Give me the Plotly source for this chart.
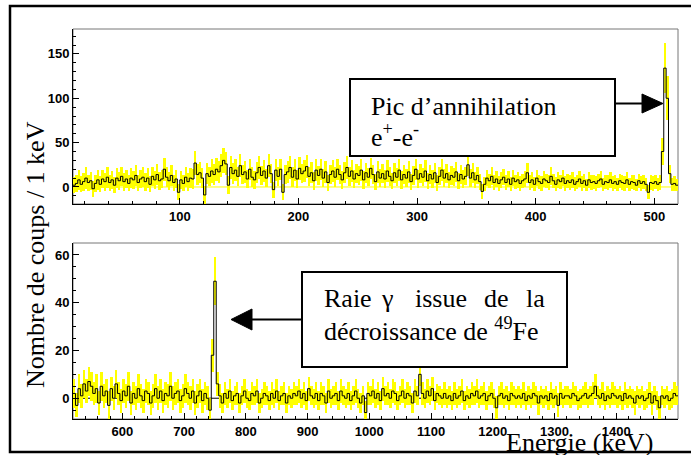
import numpy as np
import plotly.graph_objects as go

W, H = 691, 455

# ---- data (counts per bin) ----
# upper spectrum: 10 -> 520 keV, 2 keV bins
top_start, top_bin = 10, 2
top_counts = [
    2, 4, 8, 3, 6, 10, 5, 7, -2, 4,
    8, 3, 9, 6, 11, 5, 8, 2, 10, 7,
    12, 6, 9, 4, 10, 8, 13, 5, 9, 11,
    6, 10, 3, 12, 8, 14, 7, 9, 20, 11,
    7, 13, 5, 9, -6, 8, 4, 11, 6, 10,
    9, 27, 14, 16, 10, -9, 15, 12, 18, 14,
    20, 17, 24, 30, 26, 2, 22, 15, 19, 12,
    24, 14, 17, 9, 20, 11, 8, 16, 22, 13,
    18, 10, 24, 15, -3, 19, 12, 20, -6, 14,
    17, 22, 11, 19, 9, 21, 15, 18, 23, 12,
    16, 7, 19, 13, 20, 10, 17, 5, 14, 18,
    11, 20, 14, 8, 16, 22, 12, 18, 9, 15,
    13, 19, 8, 16, 11, 21, 14, 6, 17, 10,
    15, 9, 18, 12, 7, 16, 11, 19, 8, 14,
    10, 17, 6, 13, 20, 9, 15, 11, 18, 7,
    14, 9, 16, 5, 12, 19, 10, 15, 8, 13,
    11, 17, 7, 14, 9, 12, 25, 10, 16, 8,
    13, 6, -5, 3, 10, 7, 12, 5, 9, 4,
    8, 11, 5, 9, 3, 10, 6, 8, 4, 7,
    9, 16, 5, 8, 3, 10, 6, 4, 9, 7,
    5, 12, 7, 3, 8, 6, 10, 4, 7, 5,
    8, 3, 6, 9, 4, 7, 2, 8, 5, 6,
    4, 7, 9, 3, 6, 5, 8, 4, 6, 3,
    7, 5, 4, 8, 3, 6, 5, 2, 7, 4,
    6, 3, -6, 5, 4, 6, 3, 5, 40, 134, 100, 15, 3, 4, 2,
]
top_errors = [
    9, 10, 11, 9, 10, 12, 9, 10, 9, 10,
    11, 9, 10, 10, 12, 9, 10, 9, 11, 10,
    11, 10, 10, 9, 11, 10, 12, 9, 10, 11,
    10, 11, 9, 11, 10, 12, 10, 10, 13, 11,
    10, 12, 9, 10, 9, 10, 9, 11, 10, 11,
    11, 14, 12, 12, 11, 10, 12, 11, 13, 12,
    13, 12, 13, 14, 13, 10, 13, 12, 12, 11,
    13, 11, 12, 10, 12, 11, 10, 12, 13, 11,
    12, 10, 13, 11, 9, 12, 11, 12, 9, 11,
    12, 13, 11, 12, 10, 13, 11, 12, 13, 11,
    12, 10, 12, 11, 12, 10, 12, 9, 11, 12,
    11, 12, 11, 10, 12, 13, 11, 12, 10, 11,
    11, 12, 10, 11, 10, 12, 11, 9, 12, 10,
    11, 10, 12, 11, 9, 11, 10, 12, 10, 11,
    10, 12, 9, 11, 12, 10, 11, 10, 12, 9,
    11, 10, 11, 9, 10, 12, 10, 11, 9, 11,
    10, 11, 9, 11, 10, 10, 13, 10, 11, 9,
    10, 9, 8, 8, 9, 8, 10, 8, 9, 8,
    9, 9, 8, 9, 8, 9, 8, 9, 8, 8,
    9, 11, 8, 9, 8, 9, 8, 8, 9, 8,
    8, 10, 8, 8, 9, 8, 9, 8, 8, 8,
    9, 8, 8, 9, 8, 8, 7, 9, 8, 8,
    8, 8, 9, 7, 8, 8, 9, 8, 8, 7,
    8, 8, 8, 9, 7, 8, 8, 7, 8, 8,
    8, 7, 8, 8, 8, 8, 7, 8, 15, 28, 25, 10, 7, 8, 7,
]

# lower spectrum: 520 -> 1500 keV, 4 keV bins
bot_start, bot_bin = 520, 4
bot_counts = [
    2, -3, 4, 1, 6, 3, 7, 5, 2, 4,
    -2, 5, 1, 3, -3, 4, 0, 6, 2, -1,
    3, 1, 5, -2, 2, 0, 4, 1, -1, 3,
    2, -2, 1, 4, 0, 3, -1, 2, 1, 5,
    0, 2, 3, -1, 1, 4, 2, 0, 3, -2,
    1, 3, -1, 2, 0, -5, 18, 49, 6, 1,
    -2, 2, 0, 3, -1, 1, 2, -2, 1, 3,
    0, -1, 2, 1, 3, -2, 0, 2, 1, -1,
    2, 0, 3, -1, 1, 2, -2, 1, 0, 2,
    1, 3, 0, 2, -1, 4, 1, 0, 2, -1,
    2, 1, -2, 3, 0, 1, 2, -1, 3, 1,
    0, 2, -1, 1, 3, 0, -2, 1, -6, 2,
    1, 3, 0, 2, -1, 4, 1, 2, 0, 3,
    2, -1, 1, 3, 0, 2, 1, -2, 3, 1,
    10, 2, 0, 3, 1, 4, -1, 2, 1, 0,
    2, 0, 1, -1, 2, 0, 1, 3, -1, 1,
    0, 2, 1, 3, 0, 1, 2, -1, 1, 2,
    0, -4, 1, 2, 0, 1, -1, 2, 1, 0,
    1, 0, 2, -1, 1, 0, 2, 1, -2, 1,
    0, 1, -1, 2, 0, 1, -3, 2, 0, 1,
    1, 0, 2, 1, -1, 0, 1, 2, 0, 1,
    2, 5, 1, 0, 2, -1, 1, 0, 2, 1,
    0, 1, -1, 2, 0, 1, 0, -2, 1, 0,
    1, -1, 0, 2, -2, 1, -1, -4, 1, 0,
    1, -1, 0, 2, 1,
]
bot_errors = [
    6, 5, 6, 5, 6, 5, 6, 6, 5, 6,
    5, 6, 5, 5, 6, 5, 5, 6, 5, 5,
    5, 5, 6, 5, 5, 5, 6, 5, 5, 5,
    5, 5, 5, 6, 5, 5, 5, 5, 5, 6,
    5, 5, 5, 5, 5, 6, 5, 5, 5, 5,
    5, 5, 5, 5, 5, 5, 7, 10, 5, 5,
    4, 5, 4, 5, 4, 4, 5, 4, 4, 5,
    4, 4, 5, 4, 5, 4, 4, 5, 4, 4,
    5, 4, 5, 4, 4, 5, 4, 4, 4, 5,
    4, 5, 4, 5, 4, 5, 4, 4, 5, 4,
    5, 4, 4, 5, 4, 4, 5, 4, 5, 4,
    4, 5, 4, 4, 5, 4, 4, 4, 5, 5,
    4, 5, 4, 5, 4, 5, 4, 5, 4, 5,
    5, 4, 4, 5, 4, 5, 4, 4, 5, 4,
    5, 5, 4, 5, 4, 5, 4, 4, 4, 4,
    5, 4, 4, 4, 5, 4, 4, 5, 4, 4,
    4, 5, 4, 5, 4, 4, 5, 4, 4, 5,
    4, 5, 4, 5, 4, 4, 4, 5, 4, 4,
    4, 4, 5, 4, 4, 4, 5, 4, 5, 4,
    4, 4, 4, 5, 4, 4, 5, 5, 4, 4,
    4, 4, 5, 4, 4, 4, 4, 5, 4, 4,
    5, 5, 4, 4, 5, 4, 4, 4, 5, 4,
    4, 4, 4, 5, 4, 4, 4, 5, 4, 4,
    4, 4, 4, 5, 5, 4, 4, 5, 4, 4,
    4, 4, 4, 5, 4,
]

# tick values
top_xticks = [100, 200, 300, 400, 500]
top_yticks = [0, 50, 100, 150]
bot_xticks = [600, 700, 800, 900, 1000, 1100, 1200, 1300, 1400, 1500]
bot_yticks = [0, 20, 40, 60]

YELLOW = '#ffff00'
SERIF = 'Liberation Serif'
TICKFONT = dict(family='Liberation Sans', size=13, color='black')


def px(x):
    return x / W


def py(y):
    return 1 - y / H


def bold(vals):
    return [f'<b>{v}</b>' for v in vals]


def add_spectrum(fig, start, width, counts, errors, xa, ya):
    counts = np.array(counts, dtype=float)
    errors = np.array(errors, dtype=float)
    edges = start + width * np.arange(len(counts) + 1)
    centers = edges[:-1] + width / 2
    # yellow error band
    fig.add_trace(go.Bar(
        x=centers, y=2 * errors, base=counts - errors, width=width,
        marker=dict(color=YELLOW, line=dict(width=0)),
        xaxis=xa, yaxis=ya, showlegend=False, hoverinfo='skip'
    ))
    # black step histogram
    fig.add_trace(go.Scatter(
        x=edges, y=np.append(counts, counts[-1]), mode='lines',
        line=dict(color='black', width=1, shape='hv'),
        xaxis=xa, yaxis=ya, showlegend=False
    ))


fig = go.Figure()
add_spectrum(fig, top_start, top_bin, top_counts, top_errors, 'x', 'y')
add_spectrum(fig, bot_start, bot_bin, bot_counts, bot_errors, 'x2', 'y2')

xdom = [px(73), px(678)]
axis_common = dict(
    showgrid=False, zeroline=False, showline=True, linecolor='black', linewidth=1,
    ticks='inside', ticklen=6, tickcolor='black', tickfont=TICKFONT,
)

fig.update_layout(
    width=W, height=H, autosize=False,
    margin=dict(l=0, r=0, t=0, b=0),
    paper_bgcolor='white', plot_bgcolor='white',
    barmode='overlay', bargap=0, showlegend=False,
    xaxis=dict(domain=xdom, anchor='y', range=[10, 520],
               tickvals=top_xticks, ticktext=bold(top_xticks),
               minor=dict(ticks='inside', dtick=20, tick0=0, ticklen=3, tickcolor='black'),
               **axis_common),
    yaxis=dict(domain=[py(204), py(29)], anchor='x', range=[-19.2, 178.1],
               tickvals=top_yticks, ticktext=bold(top_yticks),
               minor=dict(ticks='inside', dtick=10, tick0=0, ticklen=3, tickcolor='black'),
               **axis_common),
    xaxis2=dict(domain=xdom, anchor='y2', range=[520, 1500.01],
                tickvals=bot_xticks, ticktext=bold(bot_xticks),
                minor=dict(ticks='inside', dtick=20, tick0=0, ticklen=3, tickcolor='black'),
                **axis_common),
    yaxis2=dict(domain=[py(419), py(243)], anchor='x2', range=[-8.7, 65],
                tickvals=bot_yticks, ticktext=bold(bot_yticks),
                minor=dict(ticks='inside', dtick=5, tick0=0, ticklen=3, tickcolor='black'),
                **axis_common),
)

shapes = []
# grey frame around each pad
for xr, yr in (('x domain', 'y domain'), ('x2 domain', 'y2 domain')):
    shapes.append(dict(type='rect', xref=xr, yref=yr, x0=0, x1=1, y0=0, y1=1,
                       line=dict(color='#777777', width=1), layer='below'))
# zero lines
shapes.append(dict(type='line', xref='x domain', yref='y', x0=0, x1=1, y0=0, y1=0,
                   line=dict(color=YELLOW, width=1), layer='below'))
shapes.append(dict(type='line', xref='x2 domain', yref='y2', x0=0, x1=1, y0=0, y1=0,
                   line=dict(color='black', width=1), layer='below'))
# outer frame (its right side lies outside the picture)
shapes.append(dict(type='rect', xref='paper', yref='paper', x0=px(10), x1=px(705),
                   y0=py(452), y1=py(6), line=dict(color='black', width=2.5)))
# annotation boxes
shapes.append(dict(type='rect', xref='paper', yref='paper', x0=px(350), x1=px(615),
                   y0=py(156), y1=py(79), line=dict(color='black', width=2),
                   fillcolor='white'))
shapes.append(dict(type='rect', xref='paper', yref='paper', x0=px(302), x1=px(567),
                   y0=py(367), y1=py(272), line=dict(color='black', width=2),
                   fillcolor='white'))
# arrows
shapes.append(dict(type='line', xref='paper', yref='paper', x0=px(615), x1=px(643),
                   y0=py(103.5), y1=py(103.5), line=dict(color='black', width=2)))
shapes.append(dict(type='path', xref='paper', yref='paper',
                   path=f'M {px(642)} {py(94)} L {px(663)} {py(103.5)} L {px(642)} {py(113)} Z',
                   fillcolor='black', line=dict(color='black', width=1)))
shapes.append(dict(type='line', xref='paper', yref='paper', x0=px(250), x1=px(302),
                   y0=py(319.5), y1=py(319.5), line=dict(color='black', width=2)))
shapes.append(dict(type='path', xref='paper', yref='paper',
                   path=f'M {px(252)} {py(309)} L {px(231)} {py(319.5)} L {px(252)} {py(330)} Z',
                   fillcolor='black', line=dict(color='black', width=1)))
fig.update_layout(shapes=shapes)


def label(text, x, y, size=26, xanchor='left', angle=0):
    fig.add_annotation(text=text, x=px(x), y=py(y), xref='paper', yref='paper',
                       xanchor=xanchor, yanchor='middle', showarrow=False,
                       textangle=angle, font=dict(family=SERIF, size=size, color='black'))


label('Pic d\u2019annihilation', 369, 106)
label('e<sup>+</sup>-e<sup>-</sup>', 369, 135)
for word, x in (('Raie', 322), ('\u03b3', 379), ('issue', 413), ('de', 482), ('la', 524)):
    label(word, x, 298)
label('d\u00e9croissance de <sup>49</sup>Fe', 322, 329)
label('Energie (keV)', 580, 442, xanchor='center')
label('Nombre de coups / 1 keV', 35, 255, xanchor='center', angle=-90)

# the page has a default 8px body margin; drop it so the figure sits at (0, 0)
fig.write_html("out.html", config={'displayModeBar': False},
               post_script="document.body.style.margin = '0';")
